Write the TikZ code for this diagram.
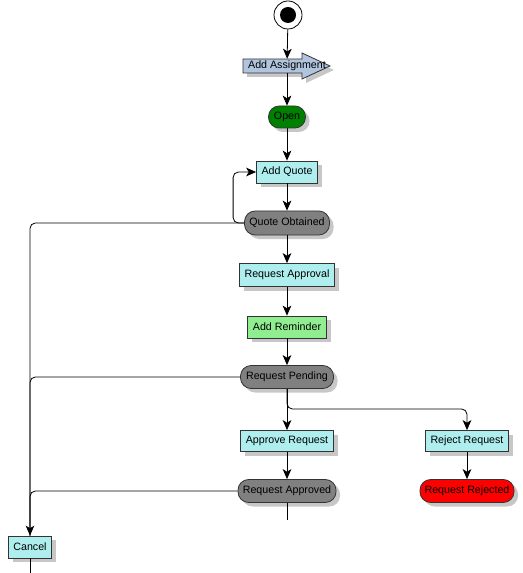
\documentclass[tikz,border=0pt]{standalone}
\usepackage{fontspec}
\setmainfont{Liberation Sans}
\usetikzlibrary{arrows.meta,shadows}

\definecolor{actfill}{HTML}{AFEEEE}
\definecolor{assignfill}{HTML}{B0C4DE}
\definecolor{opengreen}{HTML}{008000}
\definecolor{remindfill}{HTML}{90EE90}
\definecolor{statefill}{HTML}{808080}
\definecolor{rejectred}{HTML}{FF0000}

\tikzset{
  shade/.style={drop shadow={shadow xshift=3pt, shadow yshift=-3pt, fill=black!22, opacity=1}},
  box/.style={draw=black!80, line width=0.6pt, font=\fontsize{8}{9}\selectfont, inner sep=1pt, shade},
  act/.style={box, rectangle, fill=actfill},
  pill/.style={box, rectangle, rounded corners=8pt},
  flow/.style={line width=0.6pt, -{Stealth[length=7.5pt,width=6.5pt,inset=2pt]}},
  wire/.style={line width=0.6pt, rounded corners=4pt}
}

\begin{document}
\begin{tikzpicture}[x=0.75pt, y=-0.75pt]
\useasboundingbox (0,0) rectangle (523,573);

% start
\node[circle, draw, line width=0.6pt, minimum size=21pt, inner sep=0pt] (start) at (288,15) {};
\fill (start) circle (6pt);

% add assignment arrow
\draw[draw=black!80, line width=0.6pt, fill=assignfill, shade] (243,59) -- (302,59) -- (302,53) -- (330,66) -- (302,79) -- (302,73) -- (243,73) -- cycle;
\node[font=\fontsize{8}{9}\selectfont, inner sep=0pt, minimum height=10.5pt] (assign) at (287,66) {Add Assignment};

% activities and states
\node[pill, fill=opengreen, minimum width=27.75pt, minimum height=16.5pt] (open) at (287,117) {Open};
\node[act, minimum width=45.75pt, minimum height=16.5pt] (quote) at (287,172) {Add Quote};
\node[pill, fill=statefill, minimum width=63.75pt, minimum height=18pt] (obtained) at (287,223) {Quote Obtained};
\node[act, minimum width=71.25pt, minimum height=17.25pt] (reqappr) at (287,275) {Request Approval};
\node[box, fill=remindfill, minimum width=59.25pt, minimum height=16.5pt] (remind) at (287,327) {Add Reminder};
\node[pill, fill=statefill, minimum width=69.75pt, minimum height=17.25pt] (pending) at (287,377) {Request Pending};
\node[act, minimum width=69.75pt, minimum height=15.75pt] (approve) at (287,441) {Approve Request};
\node[act, minimum width=62.25pt, minimum height=15.75pt] (reject) at (467,441) {Reject Request};
\node[pill, fill=statefill, minimum width=73.5pt, minimum height=17.25pt] (approved) at (287,491) {Request Approved};
\node[pill, fill=rejectred, minimum width=70.5pt, minimum height=17.25pt] (rejected) at (467,491) {Request Rejected};
\node[act, minimum width=32.25pt, minimum height=16.5pt] (cancel) at (30,547) {Cancel};

\coordinate (split) at (287,409);
\coordinate (endA) at (287,520);
\coordinate (endB) at (30,573);

% flows
\draw[flow] (start) -- (assign);
\draw[flow] (assign) -- (open);
\draw[flow] (open) -- (quote);
\draw[flow] (quote) -- (obtained);
\draw[wire, flow] (obtained.west) -- ++(-11,0) |- (quote.west);
\draw[flow] (obtained) -- (reqappr);
\draw[flow] (reqappr) -- (remind);
\draw[flow] (remind) -- (pending);
\draw[flow] (pending) -- (approve);
\draw[wire, flow] (pending.south) -- (split) -| (reject.north);
\draw[flow] (approve) -- (approved);
\draw[flow] (reject) -- (rejected);
\draw[line width=0.6pt] (approved.south) -- (endA);

% cancel branches
\draw[wire, flow] (obtained.west) -| (cancel.north);
\draw[wire] (pending.west) -| (cancel.north);
\draw[wire] (approved.west) -| (cancel.north);
\draw[line width=0.6pt] (cancel.south) -- (endB);
\end{tikzpicture}
\end{document}
